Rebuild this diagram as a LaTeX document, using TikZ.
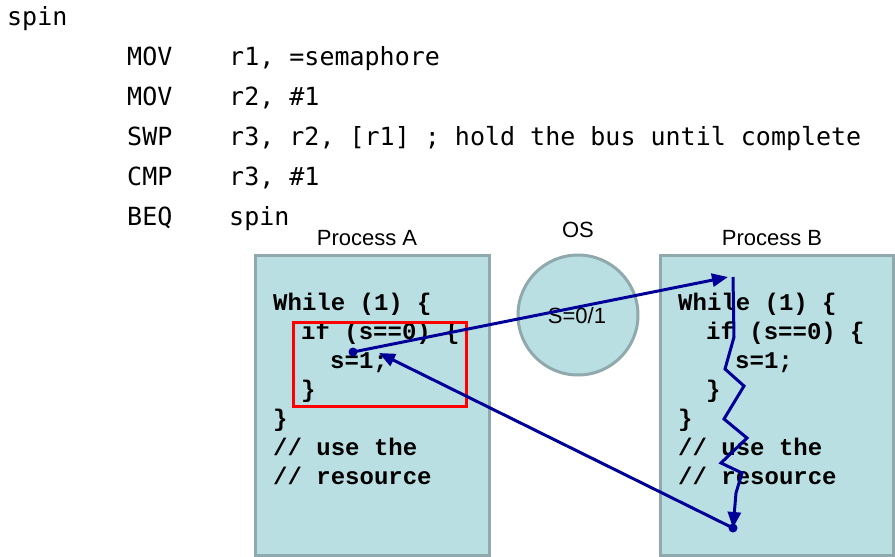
\documentclass[tikz,border=0pt]{standalone}
\usepackage{fontspec}
\setmainfont{Liberation Sans}
\newfontfamily\asmfont{DejaVu Sans Mono}
\newfontfamily\codefont{Liberation Mono}
\usetikzlibrary{arrows.meta}
\definecolor{boxfill}{HTML}{B9DFE3}
\definecolor{boxline}{HTML}{8FA9AC}
\definecolor{navy}{HTML}{000099}
\begin{document}
\begin{tikzpicture}[x=1pt,y=-1pt,
  asm/.style={anchor=base west,inner sep=0,font=\asmfont\fontsize{25}{25}\selectfont},
  code/.style={anchor=base west,inner sep=0,font=\codefont\bfseries\fontsize{24}{24}\selectfont},
  lbl/.style={anchor=base,inner sep=0,font=\fontsize{22}{22}\selectfont},
  procbox/.style={draw=boxline,fill=boxfill,line width=3pt,inner sep=0},
  arr/.style={draw=navy,line width=3pt,-{Triangle[length=16pt,width=13pt]}},
  dot/.style={circle,fill=navy,inner sep=0,minimum size=9pt}]
\useasboundingbox[fill=white] (0,0) rectangle (895,557);
% assembly
\node[asm] (s0) at (7,25) {spin};
\node[asm] (m1) at (127,65) {MOV};  \node[asm] (o1) at (229,65) {r1, =semaphore};
\node[asm] (m2) at (127,105) {MOV}; \node[asm] (o2) at (229,105) {r2, \#1};
\node[asm] (m3) at (127,145) {SWP}; \node[asm] (o3) at (229,145) {r3, r2, [r1] ; hold the bus until complete};
\node[asm] (m4) at (127,185) {CMP}; \node[asm] (o4) at (229,185) {r3, \#1};
\node[asm] (m5) at (127,225) {BEQ}; \node[asm] (o5) at (229,225) {spin};
% boxes
\node[procbox,minimum width=234pt,minimum height=300pt] (boxA) at (372,405) {};
\node[procbox,minimum width=233pt,minimum height=300pt] (boxB) at (776.5,405) {};
\node[procbox,circle,minimum size=120pt] (os) at (578,315) {};
\node[lbl] (la) at (367,245) {Process A};
\node[lbl] (lb) at (772,245) {Process B};
\node[lbl] (lo) at (578,237) {OS};
\node[lbl] (sv) at (577,323) {S=0/1};
% code A
\node[code] (a1) at (273,310) {While (1) \{};
\node[code] (a2) at (301,339) {if (s==0) \{};
\node[code] (a3) at (330,368) {s=1;};
\node[code] (a4) at (301,397) {\}};
\node[code] (a5) at (273,426) {\}};
\node[code] (a6) at (273,455) {// use the};
\node[code] (a7) at (273,484) {// resource};
% code B
\node[code] (b1) at (678,310) {While (1) \{};
\node[code] (b2) at (706,339) {if (s==0) \{};
\node[code] (b3) at (735,368) {s=1;};
\node[code] (b4) at (706,397) {\}};
\node[code] (b5) at (678,426) {\}};
\node[code] (b6) at (678,455) {// use the};
\node[code] (b7) at (678,484) {// resource};
% red box
\node[draw=red,line width=3pt,inner sep=0,minimum width=173pt,minimum height=84pt] (crit) at (379.5,364) {};
% arrows
\coordinate (p1) at (353,352);
\coordinate (p2) at (728,277);
\coordinate (z0) at (733,277);
\coordinate (z1) at (734,337);
\coordinate (z2) at (725,369);
\coordinate (z3) at (744,386);
\coordinate (z4) at (724,419);
\coordinate (z5) at (747,438);
\coordinate (z6) at (721,463);
\coordinate (z7) at (742,473);
\coordinate (z8) at (736,493);
\coordinate (p3) at (733,528);
\coordinate (p4) at (379,353);
\draw[arr] (p1) -- (p2);
\draw[arr] (z0) -- (z1) -- (z2) -- (z3) -- (z4) -- (z5) -- (z6) -- (z7) -- (z8) -- (p3);
\draw[arr] (p3) -- (p4);
\node[dot] (d1) at (p1) {};
\node[dot] (d2) at (p3) {};
\end{tikzpicture}
\end{document}
